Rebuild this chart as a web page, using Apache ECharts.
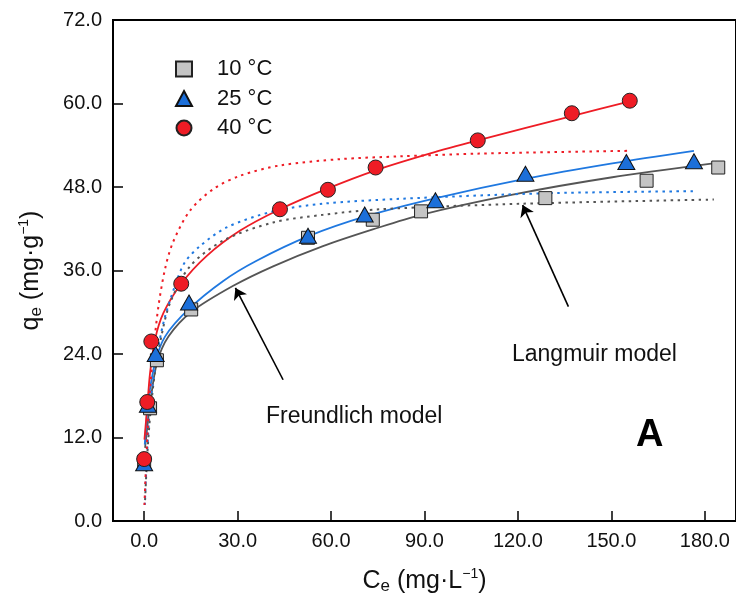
<!DOCTYPE html>
<html>
<head>
<meta charset="utf-8">
<script src="https://cdn.jsdelivr.net/npm/echarts@6/dist/echarts.min.js"></script>
<style>
html,body{margin:0;padding:0;background:#fff;}
#chart{width:736px;height:605px;}
</style>
</head>
<body>
<div id="chart"></div>
<script>
// ---- data ----
const xTickValues = [0, 30, 60, 90, 120, 150, 180];
const seriesNames = ['10 °C', '25 °C', '40 °C'];

// experimental points [Ce, qe]
const pts10 = [[0.0, 8.5], [1.9, 16.2], [4.1, 23.1], [15.1, 30.4], [52.6, 40.7], [73.4, 43.3], [88.9, 44.5], [128.8, 46.4], [161.3, 48.9], [184.3, 50.8]];
const pts25 = [[0.0, 8.3], [1.2, 16.7], [3.7, 24.0], [14.4, 31.4], [52.6, 41.0], [70.8, 44.05], [93.5, 46.1], [122.4, 49.9], [154.8, 51.6], [176.5, 51.7]];
const pts40 = [[0.0, 8.9], [1.0, 17.1], [2.3, 25.8], [11.9, 34.1], [43.6, 44.8], [59.0, 47.6], [74.3, 50.8], [107.1, 54.7], [137.3, 58.6], [155.9, 60.4]];

// Freundlich model curves (solid)
const freund10 = [[0.3, 10.5], [1.9, 16.8], [4.1, 22.7], [7.8, 26.5], [15.3, 30.1], [28.6, 33.8], [41.4, 36.6], [57.4, 39.5], [73.4, 41.9], [88.9, 44.0], [118.3, 46.9], [150.3, 49.4], [184.5, 51.5]];
const freund25 = [[0.2, 11.0], [1.4, 17.4], [3.5, 22.7], [6.7, 26.5], [14.2, 30.4], [25.4, 34.5], [36.1, 37.4], [52.6, 40.9], [71.3, 43.8], [93.7, 46.4], [122.6, 49.2], [150.3, 51.4], [176.5, 53.2]];
const freund40 = [[0.1, 11.7], [1.0, 16.5], [1.9, 21.3], [3.5, 26.1], [6.2, 29.9], [11.9, 34.1], [20.1, 38.1], [30.7, 41.7], [43.6, 44.8], [59.0, 47.8], [74.3, 50.4], [91.6, 52.8], [107.1, 54.7], [137.3, 58.2], [155.9, 60.3]];

// Langmuir model curves (dotted)
const lang10 = [[0.3, 3.0], [1.0, 9.5], [2.0, 15.5], [3.5, 21.5], [5.5, 26.5], [8.3, 31.3], [14.7, 36.6], [25.4, 40.3], [41.4, 42.9], [57.4, 44.0], [75.6, 44.8], [121.5, 45.6], [182.9, 46.2]];
const lang25 = [[0.2, 2.3], [0.9, 9.3], [1.9, 16.5], [3.5, 22.2], [6.2, 28.5], [10.2, 34.2], [13.1, 37.2], [17.9, 39.5], [26.5, 42.2], [41.4, 44.5], [57.4, 45.6], [82.0, 46.3], [129.0, 47.1], [176.5, 47.4]];
const lang40 = [[0.1, 2.3], [0.5, 6.9], [1.2, 13.6], [1.9, 18.9], [3.0, 24.6], [4.6, 30.9], [6.7, 36.2], [9.2, 40.0], [14.7, 44.6], [22.2, 47.7], [30.7, 49.6], [43.6, 51.1], [62.8, 52.0], [82.0, 52.4], [107.6, 52.8], [155.7, 53.2]];

// annotation arrows [from, to] in data coordinates
const arrowLangmuir = [[136.2, 30.8], [121.5, 45.4]];
const arrowFreundlich = [[44.6, 20.3], [29.3, 33.5]];

const FONT = '"Liberation Sans", Arial, sans-serif';
const colRed = '#ee1c25', colBlue = '#1f78e0', colGray = '#555555';

function lineSeries(name, data, color, dotted) {
  return {
    type: 'line', name: name, data: data, showSymbol: false, symbol: 'none',
    smooth: 0.3, silent: true, z: 2,
    lineStyle: { color: color, width: dotted ? 2 : 1.8, type: dotted ? [2.5, 4.5] : 'solid' }
  };
}

const richAxis = {
  sub: { fontFamily: FONT, fontSize: 17, color: '#111', padding: [11, 0, 0, 0] },
  sup: { fontFamily: FONT, fontSize: 14, color: '#111', padding: [0, 0, 13, 0] }
};

const chart = echarts.init(document.getElementById('chart'), null, { renderer: 'canvas' });
const option = {
  animation: false,
  backgroundColor: '#fff',
  grid: { left: 113, right: -1, top: 20, bottom: 84, show: true, borderColor: '#000', borderWidth: 2, backgroundColor: 'transparent' },
  legend: {
    orient: 'vertical', left: 170, top: 53, itemGap: 7.5,
    itemWidth: 16, itemHeight: 15,
    data: seriesNames,
    textStyle: { fontFamily: FONT, fontSize: 22, color: '#111', lineHeight: 22, padding: [0, 0, 0, 20] },
    selectedMode: false
  },
  xAxis: {
    type: 'value', min: -10, max: 190,
    splitLine: { show: false },
    axisLine: { onZero: false, lineStyle: { color: '#000', width: 2 } },
    axisTick: { inside: true, length: 10, lineStyle: { color: '#000', width: 1.5 }, customValues: xTickValues },
    axisLabel: { fontFamily: FONT, fontSize: 20, color: '#111', margin: 10, customValues: xTickValues, formatter: v => v.toFixed(1) },
    name: 'C{sub|e} (mg·L{sup|−1})',
    nameLocation: 'middle', nameGap: 46,
    nameTextStyle: { fontFamily: FONT, fontSize: 25, color: '#111', rich: richAxis }
  },
  yAxis: {
    type: 'value', min: 0, max: 72, interval: 12,
    splitLine: { show: false },
    axisLine: { onZero: false, lineStyle: { color: '#000', width: 2 } },
    axisTick: { inside: true, length: 10, lineStyle: { color: '#000', width: 1.5 } },
    axisLabel: { fontFamily: FONT, fontSize: 20, color: '#111', margin: 11, formatter: v => v.toFixed(1) },
    name: 'q{sub|e} (mg·g{sup|−1})',
    nameLocation: 'middle', nameGap: 68, nameRotate: 90,
    nameTextStyle: { fontFamily: FONT, fontSize: 25, color: '#111', rich: richAxis }
  },
  series: [
    lineSeries('F10', freund10, colGray, false),
    lineSeries('F25', freund25, colBlue, false),
    lineSeries('F40', freund40, colRed, false),
    lineSeries('L10', lang10, colGray, true),
    lineSeries('L25', lang25, colBlue, true),
    lineSeries('L40', lang40, colRed, true),
    {
      type: 'line', name: 'arrows', data: [], silent: true, z: 3,
      markLine: {
        silent: true, symbol: ['none', 'arrow'], symbolSize: 11,
        label: { show: false },
        lineStyle: { color: '#000', width: 1.6, type: 'solid' },
        emphasis: { disabled: true },
        data: [
          [{ coord: arrowLangmuir[0] }, { coord: arrowLangmuir[1] }],
          [{ coord: arrowFreundlich[0] }, { coord: arrowFreundlich[1] }]
        ]
      }
    },
    {
      type: 'scatter', name: seriesNames[0], data: pts10, symbol: 'rect', symbolSize: 13, z: 4,
      itemStyle: { color: '#c4c4c4', borderColor: '#222', borderWidth: 1, opacity: 1 }
    },
    {
      type: 'scatter', name: seriesNames[1], data: pts25, symbol: 'triangle', symbolSize: [17, 15], z: 5,
      itemStyle: { color: '#1c6fd9', borderColor: '#111', borderWidth: 1, opacity: 1 }
    },
    {
      type: 'scatter', name: seriesNames[2], data: pts40, symbol: 'circle', symbolSize: 15, z: 6,
      itemStyle: { color: colRed, borderColor: '#222', borderWidth: 1, opacity: 1 }
    }
  ],
  graphic: [
    { type: 'text', left: 512, top: 343, style: { text: 'Langmuir model', font: '23px ' + FONT, fill: '#111' } },
    { type: 'text', left: 266, top: 405, style: { text: 'Freundlich model', font: '23px ' + FONT, fill: '#111' } },
    { type: 'text', left: 636, top: 417, style: { text: 'A', font: 'bold 38px ' + FONT, fill: '#000' } }
  ]
};
chart.setOption(option);
</script>
</body>
</html>
